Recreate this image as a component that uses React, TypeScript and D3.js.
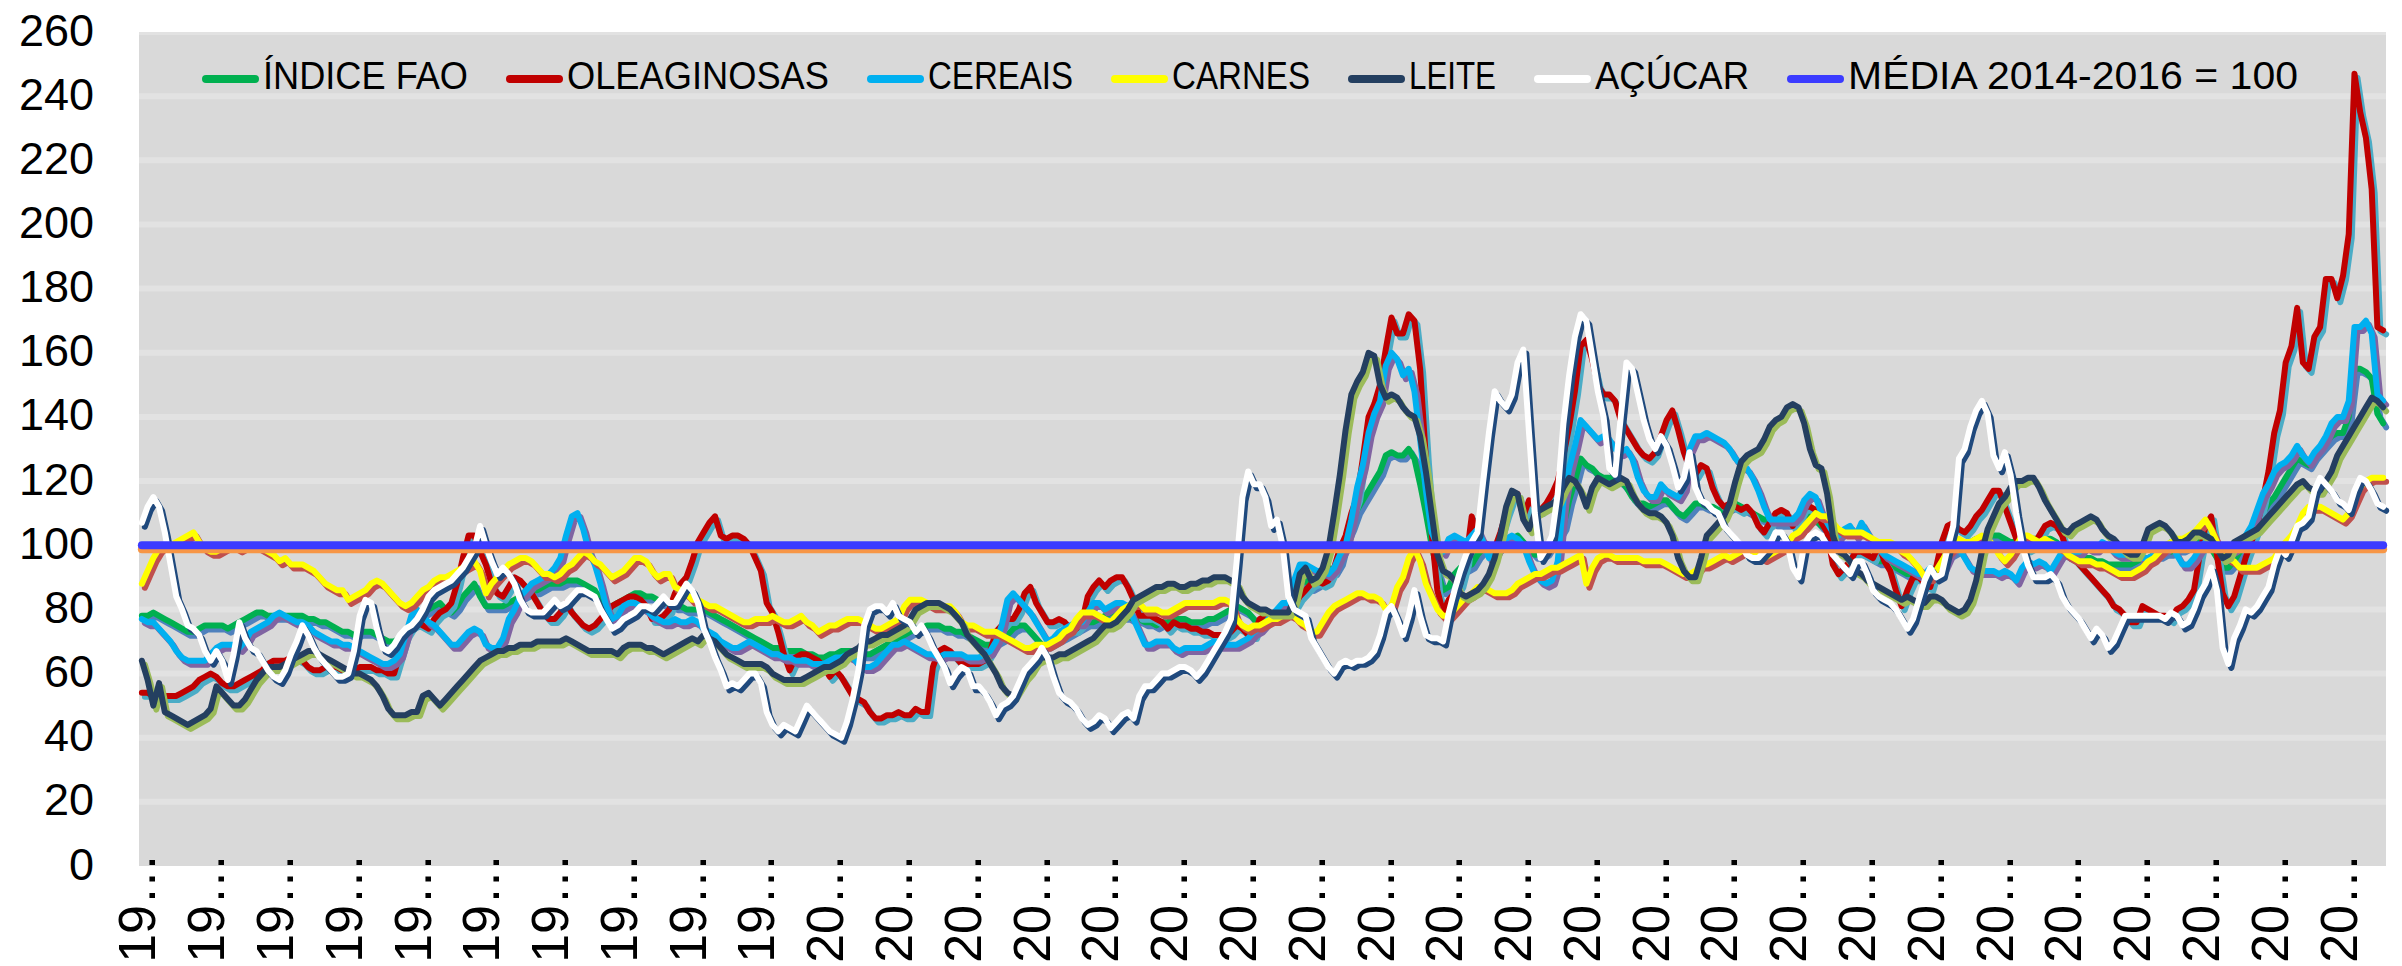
import * as d3 from "d3";

const width = 2402;
const height = 966;
const plotLeft = 139;
const plotRight = 2386;
const plotTop = 32;
const plotBottom = 866;

const tickYears = [
  1990, 1991, 1992, 1993, 1994, 1995, 1996, 1997, 1998, 1999, 2000, 2001, 2002, 2003, 2004, 2005, 2006,
  2007, 2008, 2009, 2010, 2011, 2012, 2013, 2014, 2015, 2016, 2017, 2018, 2019, 2020, 2021, 2022,
];
const yTicks = [0, 20, 40, 60, 80, 100, 120, 140, 160, 180, 200, 220, 240, 260];
const mediaValue = 100;

// monthly, Jan 1990 - Aug 2022 (one row per year)
const indiceFao = [
  78, 78, 79, 78, 77, 76, 75, 74, 73, 73, 74, 75,
  75, 75, 75, 74, 75, 76, 77, 78, 79, 79, 78, 78,
  78, 78, 78, 78, 78, 77, 77, 76, 76, 75, 74, 73,
  73, 72, 73, 73, 73, 72, 71, 70, 70, 71, 73, 75,
  77, 79, 80, 81, 82, 80, 79, 81, 84, 86, 88, 84,
  81, 81, 81, 81, 82, 83, 84, 85, 86, 86, 87, 88,
  88, 88, 89, 89, 89, 88, 87, 86, 83, 81, 81, 82,
  83, 84, 85, 85, 84, 84, 83, 82, 82, 81, 81, 80,
  80, 80, 80, 79, 78, 77, 76, 75, 74, 73, 72, 71,
  70, 69, 68, 68, 67, 67, 67, 67, 66, 66, 65, 65,
  66, 66, 67, 67, 67, 67, 66, 66, 67, 68, 69, 70,
  71, 72, 73, 74, 74, 75, 75, 75, 74, 74, 73, 73,
  72, 71, 70, 69, 69, 70, 71, 72, 74, 75, 75, 73,
  71, 69, 69, 70, 71, 72, 73, 74, 75, 76, 76, 77,
  78, 79, 79, 78, 78, 77, 77, 76, 76, 75, 76, 76,
  77, 77, 77, 76, 76, 76, 77, 77, 78, 79, 80, 81,
  80, 79, 77, 75, 76, 78, 79, 80, 82, 85, 88, 89,
  87, 88, 90, 93, 92, 95, 102, 106, 111, 114, 117, 120,
  123, 128, 129, 128, 128, 130, 127, 119, 110, 100, 92, 86,
  87, 91, 93, 93, 94, 97, 99, 98, 98, 100, 101, 102,
  103, 101, 99, 97, 97, 98, 101, 103, 106, 114, 120, 127,
  125, 124, 122, 121, 121, 121, 120, 118, 115, 113, 113, 112,
  113, 114, 114, 112, 110, 109, 111, 113, 113, 112, 112, 111,
  111, 112, 113, 112, 111, 110, 109, 108, 108, 107, 107, 107,
  107, 108, 110, 109, 108, 106, 105, 103, 101, 100, 99, 98,
  98, 97, 96, 95, 95, 94, 93, 92, 91, 91, 90, 90,
  91, 93, 95, 97, 98, 99, 100, 101, 102, 102, 103, 103,
  103, 102, 101, 101, 101, 101, 102, 102, 102, 102, 101, 99,
  98, 97, 97, 96, 96, 95, 95, 94, 94, 94, 94, 94,
  95, 96, 96, 97, 97, 98, 98, 99, 99, 100, 101, 101,
  101, 99, 96, 93, 93, 95, 98, 100, 102, 106, 110, 113,
  115, 118, 121, 124, 127, 126, 125, 128, 130, 132, 134, 135,
  135, 140, 155, 155, 154, 152, 141, 138,
];

const oleaginosas = [
  54, 54, 53, 53, 53, 53, 53, 54, 55, 56, 58, 59,
  60, 59, 57, 56, 56, 57, 58, 59, 60, 61, 63, 64,
  64, 64, 65, 65, 64, 62, 61, 61, 62, 62, 62, 61,
  61, 61, 62, 62, 62, 61, 61, 60, 60, 66, 72, 75,
  76, 75, 74, 77, 79, 80, 82, 88, 96, 103, 103, 98,
  94, 88, 85, 84, 87, 90, 89, 87, 85, 82, 79, 77,
  77, 79, 82, 79, 77, 75, 74, 75, 77, 79, 81, 82,
  83, 84, 84, 83, 81, 77, 77, 78, 80, 85, 88, 90,
  95, 101, 104, 107, 109, 103, 102, 103, 103, 102, 100, 96,
  92, 82, 79, 73, 66, 61, 65, 66, 66, 65, 64, 62,
  59, 61, 59, 56, 53, 52, 51, 48, 46, 46, 47, 47,
  48, 47, 47, 49, 48, 48, 62, 67, 68, 67, 65, 63,
  63, 63, 63, 64, 67, 73, 75, 77, 77, 80, 85, 87,
  82, 79, 76, 76, 77, 76, 74, 74, 76, 84, 87, 89,
  87, 89, 90, 90, 87, 83, 78, 78, 78, 77, 76, 74,
  76, 75, 75, 74, 74, 73, 73, 72, 72, 72, 73, 75,
  74, 72, 72, 77, 78, 78, 78, 79, 80, 81, 84, 86,
  88, 89, 88, 89, 93, 99, 103, 110, 115, 127, 140, 144,
  150, 161, 171, 166, 166, 172, 170, 155, 127, 104, 86, 79,
  83, 85, 88, 95, 109, 102, 101, 100, 99, 104, 110, 115,
  116, 109, 114, 112, 111, 113, 116, 120, 128, 137, 148, 162,
  164, 158, 150, 147, 147, 145, 139, 136, 133, 130, 128, 127,
  129, 134, 139, 142, 136, 129, 124, 122, 125, 124, 118, 114,
  112, 113, 112, 111, 112, 110, 106, 104, 107, 110, 111, 110,
  106, 109, 112, 112, 111, 107, 104, 94, 91, 93, 95, 98,
  98, 97, 96, 100, 95, 92, 86, 81, 86, 90, 90, 88,
  87, 93, 101, 106, 107, 105, 104, 106, 109, 111, 114, 117,
  117, 112, 107, 102, 100, 99, 100, 103, 106, 107, 106, 103,
  97, 96, 94, 92, 90, 88, 86, 84, 81, 80, 78, 76,
  76, 81, 80, 79, 78, 78, 77, 80, 81, 83, 86, 97,
  106, 109, 97, 85, 81, 84, 90, 96, 101, 106, 114, 123,
  135, 142, 157, 162, 174, 157, 155, 165, 168, 183, 183, 177,
  184, 197, 247, 235, 227, 211, 168, 167,
];

const cereais = [
  77, 76, 76, 74, 72, 70, 67, 65, 64, 64, 64, 64,
  66, 68, 69, 69, 69, 68, 70, 73, 74, 75, 76, 78,
  79, 78, 77, 76, 76, 75, 73, 72, 71, 70, 70, 69,
  69, 68, 67, 66, 65, 64, 63, 63, 64, 66, 72, 78,
  80, 78, 76, 75, 73, 71, 69, 69, 71, 73, 74, 73,
  69, 68, 68, 71, 77, 80, 84, 86, 88, 89, 90, 91,
  93, 96, 103, 109, 110, 105, 98, 94, 88, 81, 77, 78,
  81, 82, 82, 81, 80, 78, 77, 76, 76, 77, 76, 76,
  77, 76, 74, 73, 72, 70, 69, 68, 68, 69, 70, 69,
  68, 67, 66, 66, 65, 65, 64, 64, 64, 63, 63, 63,
  64, 65, 65, 66, 65, 63, 62, 62, 63, 65, 67, 69,
  69, 70, 69, 68, 67, 66, 66, 65, 66, 66, 66, 66,
  65, 65, 65, 66, 67, 70, 75, 83, 85, 83, 81, 79,
  76, 73, 70, 71, 73, 74, 75, 76, 76, 79, 82, 82,
  80, 81, 82, 82, 81, 77, 73, 69, 69, 70, 70, 70,
  68, 67, 68, 68, 68, 68, 69, 70, 69, 69, 69, 69,
  70, 71, 73, 74, 76, 78, 80, 82, 82, 89, 94, 94,
  93, 92, 92, 91, 93, 97, 100, 108, 118, 125, 135, 141,
  145, 156, 160, 158, 153, 155, 148, 133, 117, 104, 100, 98,
  102, 103, 102, 101, 103, 105, 101, 96, 97, 101, 102, 103,
  102, 100, 95, 91, 89, 88, 89, 95, 114, 124, 131, 139,
  137, 135, 133, 134, 133, 130, 129, 130, 127, 121, 117, 115,
  115, 119, 117, 116, 115, 118, 130, 134, 134, 135, 134, 133,
  132, 130, 127, 125, 124, 121, 117, 112, 108, 108, 108, 108,
  108, 110, 114, 116, 115, 110, 107, 104, 103, 105, 106, 103,
  107, 104, 101, 99, 97, 96, 95, 94, 93, 92, 91, 91,
  93, 91, 92, 96, 100, 99, 96, 93, 92, 92, 92, 92,
  91, 92, 91, 89, 93, 95, 94, 95, 94, 92, 95, 98,
  97, 98, 98, 100, 99, 99, 101, 100, 98, 97, 97, 97,
  98, 96, 96, 97, 98, 99, 101, 97, 94, 94, 96, 99,
  101, 100, 99, 98, 98, 99, 101, 103, 106, 111, 116, 119,
  123, 125, 126, 128, 131, 128, 126, 129, 131, 134, 138, 140,
  140, 145, 168, 168, 170, 166, 147, 145,
];

const carnes = [
  88, 92, 96, 99, 100, 100, 101, 102, 103, 104, 101, 99,
  98, 98, 99, 100, 100, 99, 100, 100, 100, 99, 98, 97,
  95, 96, 94, 94, 94, 93, 92, 90, 88, 87, 86, 86,
  83, 84, 85, 86, 88, 89, 88, 86, 84, 82, 81, 82,
  84, 86, 87, 89, 90, 90, 91, 92, 93, 94, 95, 92,
  85, 88, 90, 92, 94, 95, 96, 96, 95, 93, 91, 91,
  90, 91, 93, 94, 96, 98, 97, 95, 94, 92, 90, 91,
  92, 94, 96, 96, 95, 92, 90, 91, 91, 87, 86, 85,
  83, 83, 82, 81, 81, 80, 79, 78, 77, 76, 76, 77,
  77, 77, 78, 77, 76, 76, 77, 78, 76, 75, 73, 74,
  75, 75, 76, 77, 77, 77, 76, 75, 74, 74, 75, 76,
  77, 81, 83, 83, 83, 82, 81, 81, 81, 81, 79, 76,
  75, 75, 74, 73, 73, 73, 72, 71, 70, 69, 68, 68,
  69, 69, 69, 70, 71, 73, 74, 77, 79, 79, 79, 78,
  77, 76, 78, 80, 81, 82, 82, 80, 80, 80, 79, 79,
  80, 81, 82, 82, 82, 82, 82, 82, 83, 83, 82, 77,
  75, 74, 75, 75, 76, 77, 77, 78, 79, 78, 76, 75,
  73, 73, 76, 79, 81, 82, 83, 84, 85, 85, 84, 84,
  83, 80, 81, 87, 90, 96, 99, 95, 88, 84, 80, 78,
  78, 80, 82, 84, 85, 87, 87, 86, 85, 85, 85, 86,
  88, 89, 90, 91, 91, 92, 93, 93, 94, 95, 96, 97,
  88, 93, 96, 97, 97, 96, 96, 96, 96, 96, 95, 95,
  95, 95, 94, 93, 92, 91, 91, 92, 94, 94, 95, 96,
  97, 96, 97, 98, 99, 98, 97, 96, 97, 98, 99, 100,
  103, 104, 106, 108, 110, 109, 109, 107, 105, 104, 104, 104,
  104, 103, 102, 101, 101, 101, 100, 98, 97, 95, 93, 90,
  90, 92, 95, 98, 100, 102, 101, 101, 102, 103, 102, 100,
  97, 95, 97, 100, 103, 103, 102, 101, 102, 101, 100, 99,
  97, 96, 95, 95, 95, 94, 94, 93, 92, 91, 91, 91,
  92, 93, 95, 96, 98, 100, 101, 102, 102, 103, 104, 106,
  108, 105, 101, 98, 96, 95, 93, 93, 93, 93, 94, 95,
  96, 99, 101, 103, 106, 110, 112, 112, 112, 111, 110, 109,
  108, 110, 114, 118, 120, 121, 121, 121,
];

const leite = [
  64, 58, 50, 57, 48, 47, 46, 45, 44, 45, 46, 47,
  49, 56, 54, 52, 50, 50, 52, 55, 58, 60, 62, 62,
  62, 63, 64, 65, 66, 67, 67, 66, 65, 64, 63, 62,
  61, 60, 60, 59, 58, 56, 53, 49, 47, 47, 47, 48,
  48, 53, 54, 52, 50, 52, 54, 56, 58, 60, 62, 64,
  65, 66, 67, 67, 68, 68, 69, 69, 69, 70, 70, 70,
  70, 70, 71, 70, 69, 68, 67, 67, 67, 67, 67, 66,
  68, 69, 69, 69, 68, 68, 67, 66, 67, 68, 69, 70,
  71, 70, 72, 71, 70, 68, 66, 65, 64, 63, 63, 63,
  63, 62, 60, 59, 58, 58, 58, 58, 59, 60, 61, 62,
  62, 63, 64, 66, 67, 68, 70, 70, 71, 72, 72, 73,
  74, 75, 77, 80, 81, 82, 82, 82, 81, 80, 78, 76,
  72, 70, 68, 66, 63, 60, 56, 54, 53, 56, 59, 61,
  64, 65, 65, 65, 66, 66, 67, 68, 69, 70, 71, 73,
  75, 75, 76, 78, 80, 83, 84, 85, 86, 87, 87, 88,
  88, 87, 87, 88, 88, 89, 89, 90, 90, 90, 89, 88,
  84, 82, 81, 80, 80, 79, 79, 79, 79, 83, 91, 93,
  89, 90, 93, 99, 110, 122, 136, 147, 151, 154, 160, 159,
  150, 146, 147, 146, 143, 141, 140, 134, 123, 110, 97, 92,
  91, 89, 85, 84, 85, 86, 88, 91, 96, 103, 112, 117,
  116, 108, 105, 110, 111, 112, 113, 114, 118, 121, 120, 117,
  112, 118, 121, 120, 119, 120, 121, 120, 116, 113, 111, 110,
  110, 109, 107, 103, 96, 92, 90, 90, 96, 103, 105, 107,
  109, 113, 120, 126, 128, 129, 130, 133, 137, 139, 140, 143,
  144, 143, 138, 130, 125, 124, 116, 103, 98, 97, 95, 92,
  91, 89, 88, 87, 86, 85, 84, 83, 84, 83, 82, 82,
  84, 84, 83, 81, 80, 79, 80, 83, 89, 98, 105, 109,
  113, 115, 118, 120, 120, 121, 121, 118, 114, 111, 108, 105,
  104, 106, 107, 108, 109, 108, 105, 103, 102, 100, 98, 97,
  97, 100, 105, 106, 107, 106, 104, 101, 101, 102, 104, 104,
  103, 102, 99, 96, 97, 101, 102, 103, 104, 105, 107, 109,
  111, 113, 115, 117, 119, 120, 118, 117, 117, 120, 123, 128,
  131, 134, 137, 140, 143, 146, 145, 143,
];

const acucar = [
  107, 112, 115, 112, 104, 94, 84, 80, 75, 74, 72, 67,
  64, 67, 64, 58, 66, 76, 71, 68, 67, 64, 61, 59,
  58, 61, 66, 70, 75, 72, 68, 65, 63, 61, 59, 59,
  60, 67, 78, 83, 82, 74, 68, 67, 69, 72, 74, 75,
  77, 80, 84, 86, 87, 88, 89, 91, 93, 96, 99, 106,
  100, 95, 91, 93, 91, 88, 83, 80, 79, 79, 79, 81,
  83, 81, 82, 84, 86, 86, 85, 84, 80, 77, 74, 75,
  77, 78, 79, 81, 81, 80, 82, 84, 82, 82, 85, 88,
  86, 82, 74, 70, 65, 61, 56, 57, 56, 58, 60, 60,
  57, 48, 44, 42, 44, 43, 42, 46, 50, 48, 46, 44,
  42, 41, 40, 45, 52, 61, 75, 80, 81, 81, 79, 82,
  78, 77, 76, 73, 75, 72, 68, 65, 62, 57, 60, 62,
  61, 56, 56, 54, 51, 47, 50, 51, 53, 57, 61, 63,
  65, 68, 65, 59, 54, 52, 51, 49, 46, 44, 45, 47,
  46, 43, 45, 47, 48, 46, 53, 56, 56, 58, 60, 60,
  61, 62, 62, 61, 59, 61, 64, 67, 70, 73, 77, 95,
  115, 123, 119, 119, 115, 106, 108, 100, 84, 80, 79, 78,
  71, 68, 65, 62, 60, 63, 64, 63, 64, 64, 65, 67,
  72, 79, 81, 77, 72, 78, 86, 78, 72, 71, 71, 70,
  79, 86, 92, 97, 101, 104, 120, 135, 148, 145, 143, 147,
  157, 161, 135, 110, 96, 99, 103, 116, 138, 153, 165, 172,
  170, 159, 148, 140, 124, 122, 140, 157, 155, 147, 139, 133,
  130, 134, 131, 125, 118, 121, 129, 118, 114, 113, 111, 110,
  106, 104, 102, 100, 97, 96, 96, 98, 100, 104, 104, 101,
  93, 90, 100, 103, 104, 103, 100, 97, 95, 93, 91, 95,
  95, 91, 86, 84, 83, 82, 80, 77, 74, 77, 83, 89,
  93, 90, 91, 99, 106, 127, 130, 137, 142, 145, 141, 128,
  124, 129, 122, 110, 100, 94, 90, 90, 90, 91, 89, 84,
  81, 79, 77, 74, 71, 74, 72, 68, 70, 74, 78, 78,
  78, 78, 78, 78, 78, 77, 79, 78, 75, 76, 80, 85,
  88, 93, 86, 68, 63, 71, 75, 80, 79, 81, 84, 87,
  94, 99, 97, 101, 106, 107, 109, 117, 121, 119, 117, 114,
  113, 111, 117, 121, 120, 117, 113, 112,
];

const series = [
  { name: "ÍNDICE FAO", values: indiceFao, color: "#00b050", shadow: "#4f81bd" },
  { name: "OLEAGINOSAS", values: oleaginosas, color: "#c00000", shadow: "#4bacc6" },
  { name: "CEREAIS", values: cereais, color: "#00b0f0", shadow: "#8064a2" },
  { name: "CARNES", values: carnes, color: "#ffff00", shadow: "#c0504d" },
  { name: "LEITE", values: leite, color: "#243f60", shadow: "#9bbb59" },
  { name: "AÇÚCAR", values: acucar, color: "#ffffff", shadow: "#1f497d" },
];
const media = { name: "MÉDIA 2014-2016 = 100", color: "#3b3bff", shadow: "#f79646" };

// legend text widths of the original font
const legendWidths = [205, 262, 145, 138, 87, 154, 450];

const font = "'Liberation Sans', Arial, sans-serif";

export default function App() {
  const n = indiceFao.length;
  const x = d3.scaleBand<number>(d3.range(n), [plotLeft, plotRight]);
  const cx = (i: number) => (x(i) ?? 0) + x.bandwidth() / 2;
  const y = d3.scaleLinear([0, 260], [plotBottom, plotTop]);
  const line = d3.line<number>((_, i) => cx(i), (d) => y(d));

  const legendItems = [...series, media];
  let lx = 202;
  const legend = legendItems.map((s, k) => {
    const start = lx;
    lx += 57 + 4 + legendWidths[k] + 38;
    return { ...s, start, w: legendWidths[k] };
  });

  return (
    <svg
      width={width}
      height={height}
      style={{ position: "absolute", left: 0, top: 0, background: "#fff" }}
      fontFamily={font}
    >
      <defs>
        <clipPath id="plotArea">
          <rect x={plotLeft} y={plotTop} width={plotRight - plotLeft} height={plotBottom - plotTop} />
        </clipPath>
      </defs>
      <rect x={plotLeft} y={plotTop} width={plotRight - plotLeft} height={plotBottom - plotTop} fill="#d9d9d9" />
      <g clipPath="url(#plotArea)">
        {yTicks.filter((t) => t > 0).map((t) => (
          <line key={t} x1={plotLeft} x2={plotRight} y1={y(t)} y2={y(t)} stroke="#e2e2e2" strokeWidth={6} />
        ))}
      </g>

      {yTicks.map((t) => (
        <text key={t} x={94} y={y(t) - 2} textAnchor="end" dominantBaseline="central" fontSize={45} fill="#000">
          {t}
        </text>
      ))}

      {series.map((s) => (
        <g key={s.name} fill="none" strokeLinejoin="round" strokeLinecap="round" strokeWidth={6}>
          <path d={line(s.values) as string} stroke={s.shadow} transform="translate(3,4)" />
          <path d={line(s.values) as string} stroke={s.color} />
        </g>
      ))}

      <g strokeLinecap="round" strokeWidth={8}>
        <line x1={cx(0)} x2={cx(n - 1)} y1={y(mediaValue) + 4} y2={y(mediaValue) + 4} stroke={media.shadow} />
        <line x1={cx(0)} x2={cx(n - 1)} y1={y(mediaValue)} y2={y(mediaValue)} stroke={media.color} />
      </g>

      {tickYears.map((yr, k) => (
        <text
          key={yr}
          transform={`translate(${cx(k * 12)},853) rotate(-90)`}
          textAnchor="end"
          dy="0.26em"
          fontSize={52}
          fill="#000"
        >
          {String(yr).slice(0, 2) + "…"}
        </text>
      ))}

      {legend.map((s) => (
        <g key={s.name}>
          <line x1={s.start + 4} x2={s.start + 53} y1={79} y2={79} stroke={s.color} strokeWidth={8} strokeLinecap="round" />
          <text x={s.start + 61} y={89} fontSize={38} textLength={s.w} lengthAdjust="spacingAndGlyphs" fill="#000">
            {s.name}
          </text>
        </g>
      ))}
    </svg>
  );
}
